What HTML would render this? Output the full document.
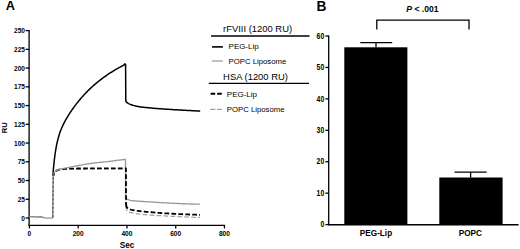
<!DOCTYPE html>
<html><head><meta charset="utf-8"><style>
html,body{margin:0;padding:0;background:#fff;}
body{width:520px;height:249px;overflow:hidden;}
svg{display:block;font-family:"Liberation Sans",sans-serif;}
</style></head><body>
<svg width="520" height="249" viewBox="0 0 520 249">
<rect width="520" height="249" fill="#fff"/>
<text x="5.7" y="10.15" font-size="12.8" font-weight="bold">A</text>
<text x="316.6" y="10.6" font-size="14.4" font-weight="bold" textLength="9.9" lengthAdjust="spacingAndGlyphs">B</text>
<!-- panel A axes -->
<g stroke="#000" stroke-width="1.3" fill="none">
<line x1="29.1" y1="30" x2="29.1" y2="226"/>
<line x1="28.5" y1="225.35" x2="225" y2="225.35" stroke-width="1.45"/>
<line x1="25.6" y1="218.00" x2="29.1" y2="218.00"/><line x1="25.6" y1="199.26" x2="29.1" y2="199.26"/><line x1="25.6" y1="180.52" x2="29.1" y2="180.52"/><line x1="25.6" y1="161.78" x2="29.1" y2="161.78"/><line x1="25.6" y1="143.04" x2="29.1" y2="143.04"/><line x1="25.6" y1="124.30" x2="29.1" y2="124.30"/><line x1="25.6" y1="105.56" x2="29.1" y2="105.56"/><line x1="25.6" y1="86.82" x2="29.1" y2="86.82"/><line x1="25.6" y1="68.08" x2="29.1" y2="68.08"/><line x1="25.6" y1="49.34" x2="29.1" y2="49.34"/><line x1="25.6" y1="30.60" x2="29.1" y2="30.60"/><line x1="29.45" y1="225.4" x2="29.45" y2="228.4"/><line x1="78.20" y1="225.4" x2="78.20" y2="228.4"/><line x1="126.95" y1="225.4" x2="126.95" y2="228.4"/><line x1="175.70" y1="225.4" x2="175.70" y2="228.4"/><line x1="224.45" y1="225.4" x2="224.45" y2="228.4"/>
</g>
<g font-size="7.4" font-weight="bold" fill="#000"><text x="25" y="220.50" text-anchor="end" textLength="3.65" lengthAdjust="spacingAndGlyphs">0</text><text x="25" y="201.76" text-anchor="end" textLength="7.30" lengthAdjust="spacingAndGlyphs">25</text><text x="25" y="183.02" text-anchor="end" textLength="7.30" lengthAdjust="spacingAndGlyphs">50</text><text x="25" y="164.28" text-anchor="end" textLength="7.30" lengthAdjust="spacingAndGlyphs">75</text><text x="25" y="145.54" text-anchor="end" textLength="10.95" lengthAdjust="spacingAndGlyphs">100</text><text x="25" y="126.80" text-anchor="end" textLength="10.95" lengthAdjust="spacingAndGlyphs">125</text><text x="25" y="108.06" text-anchor="end" textLength="10.95" lengthAdjust="spacingAndGlyphs">150</text><text x="25" y="89.32" text-anchor="end" textLength="10.95" lengthAdjust="spacingAndGlyphs">175</text><text x="25" y="70.58" text-anchor="end" textLength="10.95" lengthAdjust="spacingAndGlyphs">200</text><text x="25" y="51.84" text-anchor="end" textLength="10.95" lengthAdjust="spacingAndGlyphs">225</text><text x="25" y="33.10" text-anchor="end" textLength="10.95" lengthAdjust="spacingAndGlyphs">250</text><text x="27.62" y="236.1" textLength="3.66" lengthAdjust="spacingAndGlyphs">0</text><text x="72.71" y="236.1" textLength="10.98" lengthAdjust="spacingAndGlyphs">200</text><text x="121.46" y="236.1" textLength="10.98" lengthAdjust="spacingAndGlyphs">400</text><text x="170.21" y="236.1" textLength="10.98" lengthAdjust="spacingAndGlyphs">600</text><text x="218.96" y="236.1" textLength="10.98" lengthAdjust="spacingAndGlyphs">800</text></g>
<text x="127" y="247.5" font-size="8.2" font-weight="bold" text-anchor="middle">Sec</text>
<text transform="translate(7.2,133.3) rotate(-90)" font-size="7.6" font-weight="bold" textLength="10.9" lengthAdjust="spacingAndGlyphs">RU</text>
<!-- curves -->
<g fill="none" stroke-linejoin="round">
<polyline points="53.10,176.00 53.11,172.21 53.22,170.94 53.33,169.72 53.43,168.53 53.54,167.38 53.65,166.26 53.76,165.17 53.87,164.11 53.98,163.08 54.09,162.09 54.20,161.12 54.30,160.17 54.41,159.25 54.52,158.36 54.63,157.49 54.74,156.65 54.85,155.83 54.96,155.03 55.07,154.25 55.17,153.49 55.28,152.75 55.39,152.03 55.50,151.32 55.61,150.64 55.72,149.97 55.83,149.32 55.94,148.68 56.04,148.06 56.15,147.45 56.26,146.86 56.38,146.22 57.15,142.52 57.91,139.33 58.67,136.55 59.44,134.08 60.20,131.86 60.96,129.84 61.72,127.98 62.49,126.25 63.25,124.63 64.01,123.09 64.77,121.62 65.54,120.22 66.30,118.87 67.06,117.56 67.83,116.29 68.59,115.06 69.35,113.85 70.11,112.68 70.88,111.53 71.64,110.41 72.40,109.31 73.16,108.24 73.93,107.18 74.69,106.15 75.45,105.13 76.22,104.13 76.98,103.15 77.74,102.19 78.50,101.25 79.27,100.32 80.03,99.41 80.79,98.51 81.55,97.63 82.32,96.76 83.08,95.91 83.84,95.07 84.61,94.25 85.37,93.44 86.13,92.64 86.89,91.86 87.66,91.09 88.42,90.33 89.18,89.59 89.95,88.85 90.71,88.13 91.47,87.42 92.23,86.72 93.00,86.03 93.76,85.35 94.52,84.68 95.28,84.03 96.05,83.38 96.81,82.74 97.57,82.11 98.34,81.50 99.10,80.89 99.86,80.29 100.62,79.70 101.39,79.11 102.15,78.54 102.91,77.97 103.67,77.42 104.44,76.87 105.20,76.32 105.96,75.79 106.73,75.26 107.49,74.74 108.25,74.23 109.01,73.72 109.78,73.22 110.54,72.73 111.30,72.25 112.06,71.77 112.83,71.29 113.59,70.83 114.35,70.37 115.12,69.91 115.88,69.46 116.64,69.02 117.40,68.58 118.17,68.15 118.93,67.72 119.69,67.30 120.46,66.88 121.22,66.47 121.98,66.06 122.74,65.66 123.51,65.26 124.27,64.87 124.75,63.90 125.60,64.60 125.80,101.00 126.50,102.05 127.20,102.75 127.90,103.21 128.60,103.60 129.30,103.92 130.00,104.20 130.70,104.46 131.40,104.69 132.10,104.93 132.80,105.17 133.50,105.39 134.20,105.60 134.90,105.80 135.60,105.98 136.30,106.15 137.00,106.30 137.70,106.44 138.40,106.57 139.10,106.69 139.80,106.80 140.50,106.90 141.20,107.00 141.90,107.09 142.60,107.17 143.30,107.25 144.00,107.32 144.70,107.38 145.40,107.45 146.10,107.51 146.80,107.58 147.50,107.65 148.20,107.72 148.90,107.79 149.60,107.87 150.30,107.94 151.00,108.01 151.70,108.07 152.40,108.14 153.10,108.20 153.80,108.26 154.50,108.32 155.20,108.38 155.90,108.44 156.60,108.49 157.30,108.55 158.00,108.60 158.70,108.66 159.40,108.71 160.10,108.76 160.80,108.81 161.50,108.86 162.20,108.91 162.90,108.96 163.60,109.01 164.30,109.06 165.00,109.10 165.70,109.15 166.40,109.20 167.10,109.24 167.80,109.29 168.50,109.33 169.20,109.37 169.90,109.42 170.60,109.46 171.30,109.50 172.00,109.54 172.70,109.59 173.40,109.63 174.10,109.67 174.80,109.71 175.50,109.75 176.20,109.79 176.90,109.83 177.60,109.87 178.30,109.91 179.00,109.95 179.70,109.99 180.40,110.03 181.10,110.07 181.80,110.11 182.50,110.15 183.20,110.19 183.90,110.23 184.60,110.27 185.30,110.31 186.00,110.35 186.70,110.39 187.40,110.43 188.10,110.46 188.80,110.50 189.50,110.54 190.20,110.58 190.90,110.62 191.60,110.65 192.30,110.69 193.00,110.73 193.70,110.77 194.40,110.80 195.10,110.84 195.80,110.88 196.50,110.91 197.20,110.95 197.90,110.98 198.60,111.02 199.30,111.05 200.00,111.09 200.20,111.10" stroke="#000" stroke-width="1.5"/>
<polyline points="124.90,159.40 125.50,159.30 125.60,198.00 126.20,199.00 126.90,199.24 127.60,199.48 128.30,199.71 129.00,199.93 129.70,200.13 130.40,200.30 131.10,200.45 131.80,200.57 132.50,200.66 133.20,200.74 133.90,200.82 134.60,200.89 135.30,200.95 136.00,201.00 136.70,201.06 137.40,201.10 138.10,201.15 138.80,201.20 139.50,201.24 140.20,201.28 140.90,201.33 141.60,201.37 142.30,201.42 143.00,201.47 143.70,201.51 144.40,201.55 145.10,201.60 145.80,201.64 146.50,201.68 147.20,201.72 147.90,201.76 148.60,201.80 149.30,201.84 150.00,201.88 150.70,201.92 151.40,201.96 152.10,202.01 152.80,202.05 153.50,202.10 154.20,202.15 154.90,202.21 155.60,202.26 156.30,202.31 157.00,202.36 157.70,202.42 158.40,202.47 159.10,202.52 159.80,202.57 160.50,202.61 161.20,202.65 161.90,202.69 162.60,202.73 163.30,202.77 164.00,202.81 164.70,202.84 165.40,202.88 166.10,202.92 166.80,202.95 167.50,202.99 168.20,203.03 168.90,203.06 169.60,203.10 170.30,203.13 171.00,203.17 171.70,203.20 172.40,203.24 173.10,203.27 173.80,203.30 174.50,203.34 175.20,203.37 175.90,203.40 176.60,203.44 177.30,203.47 178.00,203.50 178.70,203.53 179.40,203.56 180.10,203.59 180.80,203.62 181.50,203.65 182.20,203.68 182.90,203.71 183.60,203.74 184.30,203.76 185.00,203.79 185.70,203.82 186.40,203.84 187.10,203.87 187.80,203.89 188.50,203.91 189.20,203.94 189.90,203.96 190.60,203.98 191.30,204.00 192.00,204.02 192.70,204.04 193.40,204.06 194.10,204.08 194.80,204.10 195.50,204.11 196.20,204.13 196.90,204.14 197.60,204.16 198.30,204.17 199.00,204.18 199.70,204.19 200.10,204.20" stroke="#999" stroke-width="1.35"/>
<polyline points="53.60,176.00 54.00,173.00 55.00,171.70 55.70,171.36 56.40,171.05 57.10,170.76 57.80,170.48 58.50,170.21 59.20,169.98 59.90,169.82 60.60,169.71 61.30,169.62 62.00,169.53 62.70,169.45 63.40,169.38 64.10,169.32 64.80,169.26 65.50,169.22 66.20,169.17 66.90,169.14 67.60,169.11 68.30,169.09 69.00,169.07 69.70,169.05 70.40,169.04 71.10,169.02 71.80,169.00 72.50,168.99 73.20,168.98 73.90,168.96 74.60,168.95 75.30,168.94 76.00,168.93 76.70,168.93 77.40,168.92 78.10,168.91 78.80,168.91 79.50,168.90 80.20,168.90 80.90,168.90 81.60,168.89 82.30,168.89 83.00,168.89 83.70,168.88 84.40,168.88 85.10,168.88 85.80,168.88 86.50,168.87 87.20,168.87 87.90,168.87 88.60,168.86 89.30,168.86 90.00,168.86 90.70,168.86 91.40,168.86 92.10,168.85 92.80,168.85 93.50,168.85 94.20,168.85 94.90,168.84 95.60,168.84 96.30,168.84 97.00,168.84 97.70,168.84 98.40,168.83 99.10,168.83 99.80,168.83 100.50,168.83 101.20,168.83 101.90,168.83 102.60,168.82 103.30,168.82 104.00,168.82 104.70,168.82 105.40,168.82 106.10,168.82 106.80,168.82 107.50,168.82 108.20,168.81 108.90,168.81 109.60,168.81 110.30,168.81 111.00,168.81 111.70,168.81 112.40,168.81 113.10,168.81 113.80,168.81 114.50,168.81 115.20,168.80 115.90,168.80 116.60,168.80 117.30,168.80 118.00,168.80 118.70,168.80 119.40,168.80 120.10,168.80 120.80,168.80 121.50,168.80 122.20,168.80 122.90,168.80 123.60,168.80 124.30,168.80 125.00,168.80 125.70,168.80 125.70,168.80 125.90,207.00" stroke="#a0a0a0" stroke-width="1.25" stroke-dasharray="4.7 2.25" stroke-dashoffset="1.53"/>
<polyline points="125.90,207.00 126.50,209.80 127.20,211.01 127.90,211.85 128.60,212.13 129.30,212.33 130.00,212.47 130.70,212.59 131.40,212.70 132.10,212.82 132.80,212.95 133.50,213.08 134.20,213.21 134.90,213.34 135.60,213.47 136.30,213.59 137.00,213.71 137.70,213.82 138.40,213.93 139.10,214.03 139.80,214.13 140.50,214.22 141.20,214.31 141.90,214.39 142.60,214.46 143.30,214.53 144.00,214.60 144.70,214.66 145.40,214.72 146.10,214.78 146.80,214.83 147.50,214.89 148.20,214.94 148.90,214.99 149.60,215.04 150.30,215.08 151.00,215.13 151.70,215.18 152.40,215.23 153.10,215.27 153.80,215.32 154.50,215.37 155.20,215.41 155.90,215.45 156.60,215.50 157.30,215.54 158.00,215.58 158.70,215.62 159.40,215.66 160.10,215.70 160.80,215.74 161.50,215.77 162.20,215.81 162.90,215.85 163.60,215.88 164.30,215.92 165.00,215.96 165.70,215.99 166.40,216.03 167.10,216.07 167.80,216.10 168.50,216.14 169.20,216.17 169.90,216.21 170.60,216.24 171.30,216.28 172.00,216.31 172.70,216.35 173.40,216.38 174.10,216.42 174.80,216.45 175.50,216.49 176.20,216.52 176.90,216.55 177.60,216.59 178.30,216.62 179.00,216.65 179.70,216.69 180.40,216.72 181.10,216.75 181.80,216.78 182.50,216.81 183.20,216.84 183.90,216.88 184.60,216.91 185.30,216.94 186.00,216.97 186.70,217.00 187.40,217.03 188.10,217.06 188.80,217.08 189.50,217.11 190.20,217.14 190.90,217.17 191.60,217.20 192.30,217.22 193.00,217.25 193.70,217.28 194.40,217.30 195.10,217.33 195.80,217.36 196.50,217.38 197.20,217.41 197.90,217.43 198.60,217.45 199.30,217.48 200.00,217.50" stroke="#a0a0a0" stroke-width="1.25" stroke-dasharray="4.7 2.25" stroke-dashoffset="0.46"/>
<polyline points="53.60,176.00 54.00,172.60 55.00,171.40 55.70,171.02 56.40,170.66 57.10,170.36 57.80,170.07 58.50,169.81 59.20,169.58 59.90,169.42 60.60,169.31 61.30,169.22 62.00,169.13 62.70,169.05 63.40,168.98 64.10,168.92 64.80,168.86 65.50,168.82 66.20,168.77 66.90,168.74 67.60,168.71 68.30,168.69 69.00,168.67 69.70,168.65 70.40,168.64 71.10,168.62 71.80,168.60 72.50,168.59 73.20,168.58 73.90,168.56 74.60,168.55 75.30,168.54 76.00,168.53 76.70,168.53 77.40,168.52 78.10,168.51 78.80,168.51 79.50,168.50 80.20,168.50 80.90,168.50 81.60,168.49 82.30,168.49 83.00,168.49 83.70,168.48 84.40,168.48 85.10,168.48 85.80,168.48 86.50,168.47 87.20,168.47 87.90,168.47 88.60,168.47 89.30,168.46 90.00,168.46 90.70,168.46 91.40,168.46 92.10,168.45 92.80,168.45 93.50,168.45 94.20,168.45 94.90,168.44 95.60,168.44 96.30,168.44 97.00,168.44 97.70,168.44 98.40,168.43 99.10,168.43 99.80,168.43 100.50,168.43 101.20,168.43 101.90,168.43 102.60,168.42 103.30,168.42 104.00,168.42 104.70,168.42 105.40,168.42 106.10,168.42 106.80,168.42 107.50,168.42 108.20,168.41 108.90,168.41 109.60,168.41 110.30,168.41 111.00,168.41 111.70,168.41 112.40,168.41 113.10,168.41 113.80,168.41 114.50,168.41 115.20,168.41 115.90,168.40 116.60,168.40 117.30,168.40 118.00,168.40 118.70,168.40 119.40,168.40 120.10,168.40 120.80,168.40 121.50,168.40 122.20,168.40 122.90,168.40 123.60,168.40 124.30,168.40 125.00,168.40 125.70,168.40 125.90,168.40 126.10,205.00" stroke="#000" stroke-width="1.8" stroke-dasharray="4.7 2.25" stroke-dashoffset="1.17"/>
<polyline points="126.10,204.00 126.50,206.90 127.20,207.83 127.90,208.36 128.60,208.74 129.30,209.07 130.00,209.34 130.70,209.56 131.40,209.75 132.10,209.92 132.80,210.08 133.50,210.22 134.20,210.35 134.90,210.48 135.60,210.59 136.30,210.70 137.00,210.80 137.70,210.89 138.40,210.98 139.10,211.07 139.80,211.15 140.50,211.23 141.20,211.31 141.90,211.39 142.60,211.47 143.30,211.54 144.00,211.61 144.70,211.68 145.40,211.74 146.10,211.81 146.80,211.87 147.50,211.93 148.20,211.99 148.90,212.04 149.60,212.10 150.30,212.16 151.00,212.22 151.70,212.27 152.40,212.33 153.10,212.39 153.80,212.45 154.50,212.52 155.20,212.58 155.90,212.64 156.60,212.70 157.30,212.75 158.00,212.81 158.70,212.87 159.40,212.92 160.10,212.97 160.80,213.02 161.50,213.07 162.20,213.11 162.90,213.15 163.60,213.20 164.30,213.24 165.00,213.28 165.70,213.32 166.40,213.36 167.10,213.41 167.80,213.45 168.50,213.49 169.20,213.53 169.90,213.57 170.60,213.61 171.30,213.65 172.00,213.69 172.70,213.73 173.40,213.77 174.10,213.80 174.80,213.84 175.50,213.88 176.20,213.92 176.90,213.95 177.60,213.99 178.30,214.03 179.00,214.06 179.70,214.10 180.40,214.13 181.10,214.16 181.80,214.20 182.50,214.23 183.20,214.26 183.90,214.29 184.60,214.32 185.30,214.35 186.00,214.38 186.70,214.41 187.40,214.44 188.10,214.47 188.80,214.49 189.50,214.52 190.20,214.54 190.90,214.57 191.60,214.59 192.30,214.61 193.00,214.63 193.70,214.65 194.40,214.67 195.10,214.69 195.80,214.71 196.50,214.73 197.20,214.74 197.90,214.76 198.60,214.77 199.30,214.79 200.00,214.80" stroke="#000" stroke-width="1.8" stroke-dasharray="4.7 2.25" stroke-dashoffset="6.60"/>
<polyline points="53.60,176.00 54.00,172.50 55.00,171.50 55.70,171.03 56.40,170.61 57.10,170.25 57.80,169.95 58.50,169.68 59.20,169.44 59.90,169.23 60.60,169.04 61.30,168.88 62.00,168.72 62.70,168.58 63.40,168.44 64.10,168.31 64.80,168.18 65.50,168.06 66.20,167.94 66.90,167.81 67.60,167.68 68.30,167.54 69.00,167.40 69.70,167.26 70.40,167.12 71.10,166.98 71.80,166.84 72.50,166.70 73.20,166.57 73.90,166.43 74.60,166.29 75.30,166.15 76.00,166.02 76.70,165.88 77.40,165.75 78.10,165.61 78.80,165.48 79.50,165.34 80.20,165.21 80.90,165.07 81.60,164.94 82.30,164.81 83.00,164.69 83.70,164.57 84.40,164.45 85.10,164.33 85.80,164.22 86.50,164.11 87.20,164.00 87.90,163.89 88.60,163.78 89.30,163.68 90.00,163.58 90.70,163.48 91.40,163.38 92.10,163.29 92.80,163.20 93.50,163.11 94.20,163.02 94.90,162.94 95.60,162.86 96.30,162.78 97.00,162.70 97.70,162.62 98.40,162.54 99.10,162.47 99.80,162.39 100.50,162.32 101.20,162.25 101.90,162.17 102.60,162.10 103.30,162.02 104.00,161.95 104.70,161.87 105.40,161.80 106.10,161.72 106.80,161.64 107.50,161.56 108.20,161.48 108.90,161.39 109.60,161.31 110.30,161.23 111.00,161.14 111.70,161.06 112.40,160.97 113.10,160.89 113.80,160.80 114.50,160.72 115.20,160.63 115.90,160.54 116.60,160.46 117.30,160.37 118.00,160.28 118.70,160.19 119.40,160.11 120.10,160.02 120.80,159.93 121.50,159.84 122.20,159.75 122.90,159.66 123.60,159.57 124.30,159.48 124.90,159.40 125.50,159.30" stroke="#999" stroke-width="1.35"/>
<polyline points="29.50,216.60 33.00,216.80 36.70,217.00 40.70,216.80 43.00,217.30 45.00,217.90 48.20,218.10 51.70,217.90 52.80,217.70" stroke="#8a8a8a" stroke-width="1.4"/>
<line x1="52.8" y1="218.3" x2="53.2" y2="172" stroke="#7a7a7a" stroke-width="1.35"/>
<line x1="52.8" y1="217" x2="53.2" y2="173" stroke="#333" stroke-width="1.0" stroke-dasharray="1.6 2.6"/>
</g>
<!-- legend -->
<g font-size="8.7" fill="#000">
<text x="223.1" y="32.2" textLength="69" lengthAdjust="spacingAndGlyphs">rFVIII (1200 RU)</text>
<text x="223.1" y="79.8" textLength="64.8" lengthAdjust="spacingAndGlyphs">HSA (1200 RU)</text>
</g>
<g font-size="7.6" fill="#000">
<text x="228.6" y="49.4" textLength="30" lengthAdjust="spacingAndGlyphs">PEG-Lip</text>
<text x="228.6" y="63.9" textLength="57.6" lengthAdjust="spacingAndGlyphs">POPC Liposome</text>
<text x="226.8" y="96.8" textLength="30.2" lengthAdjust="spacingAndGlyphs">PEG-Lip</text>
<text x="226.8" y="111.6" textLength="57.8" lengthAdjust="spacingAndGlyphs">POPC Liposome</text>
</g>
<g fill="none">
<line x1="211.1" y1="36" x2="309.5" y2="36" stroke="#000" stroke-width="1.3"/>
<line x1="208.8" y1="83.3" x2="309" y2="83.3" stroke="#000" stroke-width="1.3"/>
<line x1="212" y1="46.9" x2="222.9" y2="46.9" stroke="#000" stroke-width="1.6"/>
<line x1="211.8" y1="61" x2="222.9" y2="61" stroke="#9c9c9c" stroke-width="1.25"/>
<line x1="210.6" y1="93.8" x2="221.8" y2="93.8" stroke="#000" stroke-width="1.9" stroke-dasharray="4.6 2"/>
<line x1="210.2" y1="109.3" x2="221.8" y2="109.3" stroke="#a0a0a0" stroke-width="1.25" stroke-dasharray="5.2 1.6"/>
</g>
<!-- panel B -->
<g stroke="#000" stroke-width="1.3" fill="none">
<line x1="328.7" y1="35.4" x2="328.7" y2="225.2"/>
<line x1="328" y1="224.75" x2="518.6" y2="224.75" stroke-width="1.7"/>
<line x1="325.4" y1="224.60" x2="328.7" y2="224.60"/><line x1="325.4" y1="193.17" x2="328.7" y2="193.17"/><line x1="325.4" y1="161.74" x2="328.7" y2="161.74"/><line x1="325.4" y1="130.31" x2="328.7" y2="130.31"/><line x1="325.4" y1="98.88" x2="328.7" y2="98.88"/><line x1="325.4" y1="67.45" x2="328.7" y2="67.45"/><line x1="325.4" y1="36.02" x2="328.7" y2="36.02"/>
<polyline points="376.8,29.4 376.8,20.2 469,20.2 469,29.4"/>
<line x1="360.3" y1="42.7" x2="392.2" y2="42.7"/>
<line x1="376" y1="42.7" x2="376" y2="47.5"/>
<line x1="454.5" y1="172.2" x2="486.7" y2="172.2"/>
<line x1="470.6" y1="172.2" x2="470.6" y2="177.6"/>
</g>
<g font-size="8.6" font-weight="bold" fill="#000"><text x="324.2" y="227.35" text-anchor="end" textLength="3.8" lengthAdjust="spacingAndGlyphs">0</text><text x="324.2" y="195.92" text-anchor="end" textLength="7.6" lengthAdjust="spacingAndGlyphs">10</text><text x="324.2" y="164.49" text-anchor="end" textLength="7.6" lengthAdjust="spacingAndGlyphs">20</text><text x="324.2" y="133.06" text-anchor="end" textLength="7.6" lengthAdjust="spacingAndGlyphs">30</text><text x="324.2" y="101.63" text-anchor="end" textLength="7.6" lengthAdjust="spacingAndGlyphs">40</text><text x="324.2" y="70.20" text-anchor="end" textLength="7.6" lengthAdjust="spacingAndGlyphs">50</text><text x="324.2" y="38.77" text-anchor="end" textLength="7.6" lengthAdjust="spacingAndGlyphs">60</text></g>
<rect x="344.3" y="47.3" width="63.1" height="177.3" fill="#000"/>
<rect x="439.3" y="177.5" width="63.3" height="47.1" fill="#000"/>
<text x="376" y="235.7" font-size="8.2" font-weight="bold" text-anchor="middle">PEG-Lip</text>
<text x="470.4" y="235.7" font-size="8.2" font-weight="bold" text-anchor="middle">POPC</text>
<text x="406.3" y="12.1" font-size="8.6" font-weight="bold"><tspan font-style="italic">P</tspan> &lt; .001</text>
</svg>
</body></html>
